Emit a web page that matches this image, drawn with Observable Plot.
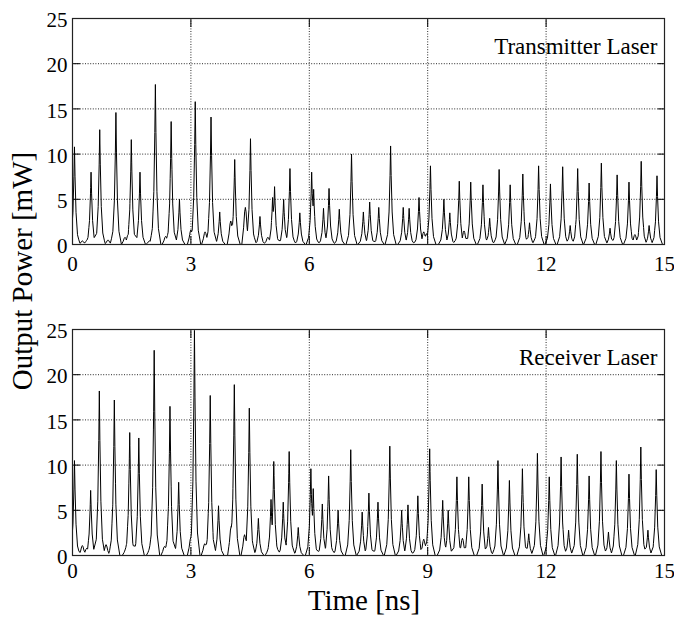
<!DOCTYPE html>
<html>
<head>
<meta charset="utf-8">
<script src="https://cdn.jsdelivr.net/npm/d3@7"></script>
<script src="https://cdn.jsdelivr.net/npm/@observablehq/plot@0.6"></script>
<style>
  html, body { margin: 0; padding: 0; background: #fff; }
  #wrap { position: relative; width: 674px; height: 621px; background: #fff; overflow: hidden; font-family: 'Liberation Serif', 'Times New Roman', serif; }
  #wrap > .panel { position: absolute; left: 0; }
  #labels { position: absolute; left: 0; top: 0; pointer-events: none; font-family: 'Liberation Serif', 'Times New Roman', serif; }
</style>
</head>
<body>
<div id="wrap">
  <div class="panel" id="p1" style="top:0px"></div>
  <div class="panel" id="p2" style="top:300px"></div>
  <svg id="labels" width="674" height="621">
    <text x="364" y="610" text-anchor="middle" font-size="29">Time [ns]</text>
    <text transform="translate(32,271) rotate(-90)" text-anchor="middle" font-size="29">Output Power [mW]</text>
  </svg>
</div>
<script>
// ---- Data ----
const xTicks = [0, 3, 6, 9, 12, 15];
const yTicks = [0, 5, 10, 15, 20, 25];

const panelLabels = ["Transmitter Laser", "Receiver Laser"];

// Transmitter laser: pulse peak times (ns) and peak powers (mW)
const txPeakTime = [0.05, 0.47, 0.69, 1.10, 1.49, 1.71, 2.10, 2.50, 2.71, 3.11, 3.51, 3.73, 4.11, 4.51, 4.75,
  5.07, 5.12, 5.35, 5.51, 5.76, 6.06, 6.11, 6.36, 6.50, 6.76, 7.07, 7.37, 7.53, 7.76, 8.06, 8.38, 8.53, 8.78,
  9.07, 9.41, 9.56, 9.80, 10.09, 10.40, 10.57, 10.81, 11.09, 11.41, 11.58, 11.81, 12.11, 12.42, 12.61, 12.80,
  13.09, 13.40, 13.62, 13.80, 14.10, 14.41, 14.61, 14.81];
const txPeakPower = [10.8, 8.0, 12.7, 14.6, 11.6, 8.0, 17.7, 13.6, 5.0, 15.8, 14.1, 3.6, 9.4, 11.7, 3.1,
  5.2, 6.4, 5.0, 8.4, 3.5, 8.0, 6.1, 4.0, 6.2, 3.9, 10.0, 3.6, 4.7, 4.1, 10.9, 4.1, 4.0, 5.2,
  8.7, 5.0, 3.5, 7.0, 6.9, 6.6, 2.9, 8.3, 6.6, 7.8, 2.4, 8.7, 6.7, 8.6, 2.1, 8.4,
  6.8, 9.0, 1.8, 7.7, 6.9, 9.2, 2.1, 7.6];
// Transmitter laser: low broad humps between pulses
const txHumpTime = [0.25, 0.37, 0.90, 1.33, 1.41, 1.95, 2.36, 2.43, 3.00, 3.36, 4.01, 4.38, 4.95, 8.90, 8.97, 9.92, 14.25];
const txHumpPower = [0.4, 0.5, 0.5, 0.8, 1.1, 0.4, 0.9, 1.3, 1.6, 1.4, 2.6, 4.1, 0.8, 1.4, 1.2, 1.5, 1.1];

// Receiver laser: pulse peak times (ns) and peak powers (mW)
const rxPeakTime = [0.05, 0.46, 0.68, 1.06, 1.45, 1.68, 2.07, 2.47, 2.69, 3.09, 3.49, 3.70, 4.10, 4.48, 4.71,
  5.03, 5.10, 5.34, 5.49, 5.72, 6.04, 6.10, 6.33, 6.49, 6.73, 7.05, 7.34, 7.51, 7.74, 8.04, 8.34, 8.50, 8.75,
  9.05, 9.38, 9.52, 9.74, 10.04, 10.38, 10.54, 10.78, 11.07, 11.40, 11.56, 11.78, 12.08, 12.38, 12.57, 12.79,
  13.09, 13.39, 13.58, 13.78, 14.10, 14.40, 14.58, 14.79];
const rxPeakPower = [10.5, 7.2, 18.2, 17.2, 13.6, 13.0, 22.7, 16.5, 8.1, 24.9, 17.7, 5.5, 18.9, 16.3, 4.1,
  6.2, 10.4, 5.9, 11.5, 3.1, 9.6, 7.4, 5.7, 8.8, 5.0, 11.7, 4.8, 6.9, 5.9, 12.1, 5.0, 5.6, 6.6,
  11.8, 6.1, 5.0, 8.7, 8.7, 7.9, 3.1, 10.5, 8.3, 9.6, 2.4, 11.3, 8.7, 10.9, 2.8, 11.2,
  8.8, 11.5, 2.6, 10.5, 9.0, 12.0, 2.8, 9.5];
// Receiver laser: low broad humps between pulses
const rxHumpTime = [0.25, 0.36, 0.85, 1.00, 1.35, 1.41, 1.96, 2.33, 2.41, 3.00, 3.35, 4.02, 4.36, 4.97, 8.90, 8.97, 9.88];
const rxHumpPower = [1.1, 0.8, 1.2, 0.6, 0.7, 1.0, 0.8, 1.0, 1.4, 2.0, 1.3, 3.2, 2.3, 0.8, 1.8, 1.4, 1.9];

// ---- Trace construction (pulse outline drawn through each read peak) ----
const spikeShape = {w: 0.14, off: [-1, -0.55, -0.28, -0.1, 0, 0.1, 0.28, 0.55, 1], frac: [0, 0.1, 0.33, 0.7, 1, 0.7, 0.33, 0.1, 0]};
const humpShape = {w: 0.09, off: [-1, -0.5, -0.2, 0, 0.2, 0.5, 1], frac: [0, 0.45, 0.88, 1, 0.88, 0.45, 0]};

function buildTrace(pt, pp, ht, hp) {
  const comps = [];
  pt.forEach((t, i) => comps.push({t, p: pp[i], s: spikeShape}));
  ht.forEach((t, i) => comps.push({t, p: hp[i], s: humpShape}));
  const times = new Set([0, 15]);
  for (const c of comps) for (const o of c.s.off) times.add(+(c.t + o * c.s.w).toFixed(4));
  const sorted = [...times].filter(t => t >= 0 && t <= 15).sort((a, b) => a - b);
  const valueAt = (c, t) => {
    const x = (t - c.t) / c.s.w;
    const off = c.s.off, fr = c.s.frac;
    if (x <= off[0] || x >= off[off.length - 1]) return 0;
    for (let k = 0; k < off.length - 1; k++) {
      if (x >= off[k] && x <= off[k + 1]) {
        const u = (x - off[k]) / (off[k + 1] - off[k]);
        return c.p * (fr[k] + u * (fr[k + 1] - fr[k]));
      }
    }
    return 0;
  };
  return sorted.map(t => ({t, p: d3.max(comps, c => valueAt(c, t))}));
}

const serif = "'Liberation Serif', 'Times New Roman', serif";

function panel(data, label, marginTop, marginBottom, xPad) {
  const grid = {stroke: "#111", strokeOpacity: 1, strokeWidth: 0.9, strokeDasharray: "1,1.6"};
  return Plot.plot({
    width: 674,
    height: marginTop + 226 + marginBottom,
    marginLeft: 72,
    marginRight: 10,
    marginTop,
    marginBottom,
    x: {domain: [0, 15]},
    y: {domain: [0, 25]},
    style: {fontFamily: serif, fontSize: "21px", color: "black", background: "white"},
    marks: [
      Plot.gridX(xTicks, grid),
      Plot.gridY(yTicks, grid),
      Plot.axisX(xTicks, {anchor: "bottom", tickSize: 0, tickPadding: xPad, label: null, fontSize: 21}),
      Plot.axisX(xTicks, {anchor: "bottom", tickSize: -8, tickFormat: () => "", label: null}),
      Plot.axisX(xTicks, {anchor: "top", tickSize: -8, tickFormat: () => "", label: null}),
      Plot.axisY(yTicks, {anchor: "left", tickSize: 0, tickPadding: 5, dy: 2, label: null, fontSize: 21}),
      Plot.axisY(yTicks, {anchor: "left", tickSize: -8, tickFormat: () => "", label: null}),
      Plot.axisY(yTicks, {anchor: "right", tickSize: -7, tickFormat: () => "", label: null}),
      Plot.line(data, {x: "t", y: "p", stroke: "#000", strokeWidth: 1, clip: true}),
      Plot.frame({stroke: "#222", strokeWidth: 1.2}),
      Plot.text([label], {text: d => d, frameAnchor: "top-right", lineAnchor: "top", dx: -7, dy: 19, fontSize: 23, fill: "#000"})
    ]
  });
}

document.getElementById("p1").append(panel(buildTrace(txPeakTime, txPeakPower, txHumpTime, txHumpPower), panelLabels[0], 18, 36, 12));
document.getElementById("p2").append(panel(buildTrace(rxPeakTime, rxPeakPower, rxHumpTime, rxHumpPower), panelLabels[1], 29, 36, 8));
</script>
</body>
</html>
